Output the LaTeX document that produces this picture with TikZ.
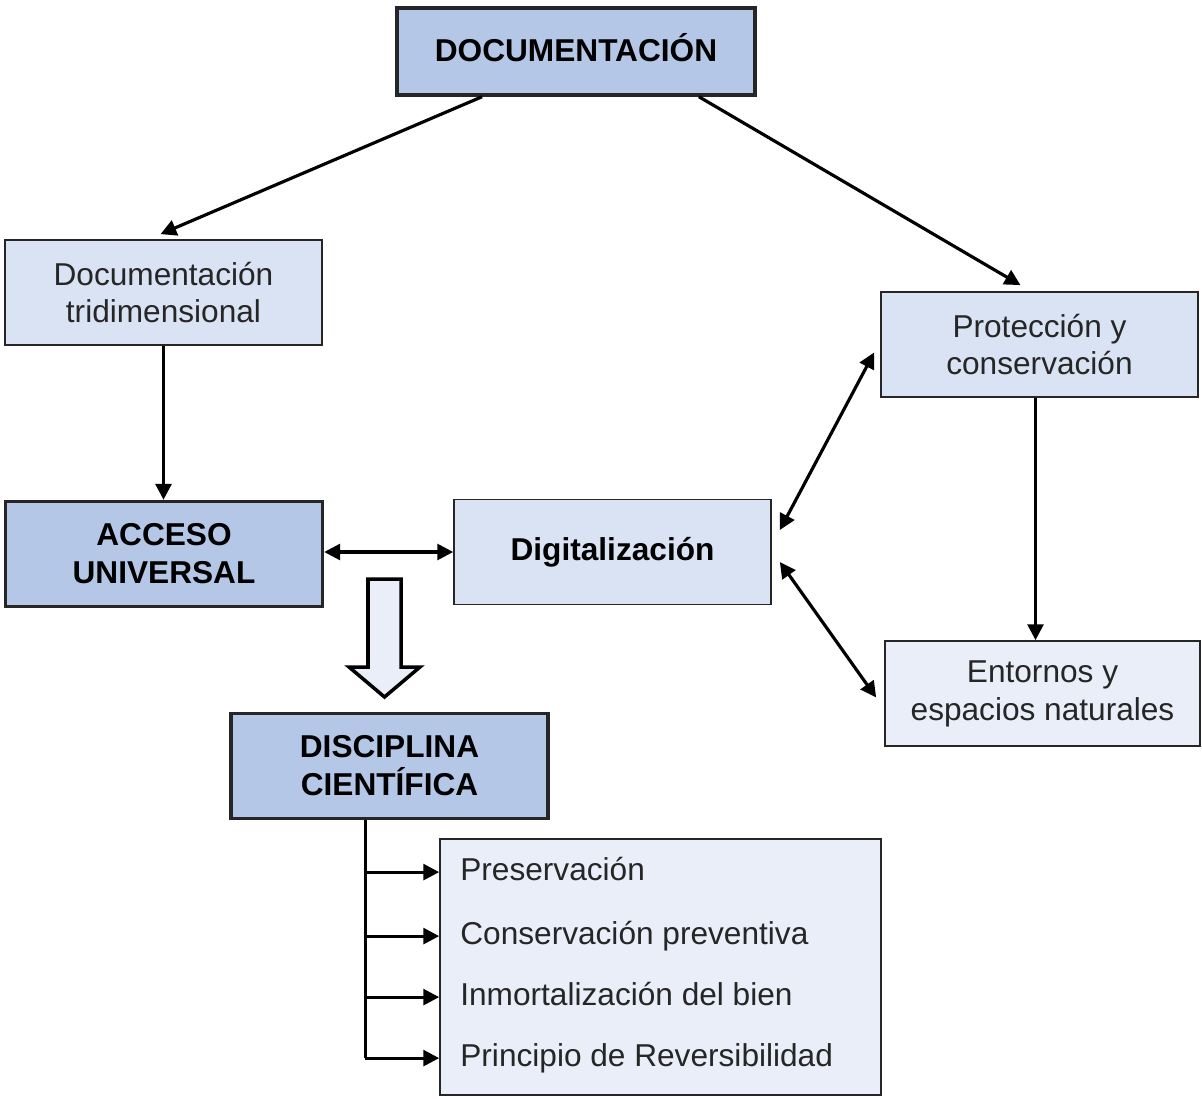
\documentclass[tikz,border=0pt]{standalone}
\usepackage{fontspec}
\setmainfont{Liberation Sans}
\usetikzlibrary{arrows.meta,calc}
\definecolor{azulF}{HTML}{B4C7E7}
\definecolor{azulM}{HTML}{DAE3F3}
\definecolor{azulC}{HTML}{E9EEF8}
\tikzset{
  caja/.style={draw=black!85, line width=1pt, fill=azulM, minimum width=6.34cm, minimum height=2.1cm,
    align=center, inner sep=0pt, text=black!85, font=\fontsize{18}{21.6}\selectfont},
  cajaF/.style={caja, fill=azulF, line width=2pt, text=black, font=\fontsize{18}{21.6}\selectfont\bfseries},
  item/.style={anchor=base west, inner sep=0pt, text height=13pt, text depth=4pt, text=black!85,
    font=\fontsize{18}{21.6}\selectfont},
  flecha/.style={line width=1.8pt, -{Triangle[length=9pt,width=9pt]}},
  dflecha/.style={line width=1.8pt, {Triangle[length=9pt,width=9pt]}-{Triangle[length=9pt,width=9pt]}},
}
\begin{document}
\begin{tikzpicture}[x=0.02cm, y=-0.02cm]
  \useasboundingbox (0,0) rectangle (1202,1098);

  \node[cajaF, minimum width=7.16cm, minimum height=1.74cm, text depth=5pt] (doc) at (576,51.5) {DOCUMENTACIÓN};
  \node[caja] (tri) at (163.5,292.5) {Documentación\\tridimensional};
  \node[caja] (prot) at (1039.5,344.5) {Protección y\\conservación};
  \node[cajaF] (acc) at (164,554) {ACCESO\\UNIVERSAL};
  \node[caja, font=\fontsize{18}{21.6}\selectfont\bfseries, text=black] (dig) at (612.5,552) {Digitalización};
  \node[caja, fill=azulC, minimum width=6.3cm] (ent) at (1042.5,693.5) {Entornos y\\espacios naturales};
  \node[cajaF] (dis) at (389.5,766) {DISCIPLINA\\CIENTÍFICA};
  \node[caja, fill=azulC, minimum width=8.82cm, minimum height=5.12cm] (lista) at (660.5,967) {};

  \node[item] (it1) at (460,880) {Preservación};
  \node[item] (it2) at (460,944) {Conservación preventiva};
  \node[item] (it3) at (460,1005) {Inmortalización del bien};
  \node[item] (it4) at (460,1066) {Principio de Reversibilidad};

  % conexiones
  \draw[flecha] ($(doc.south west)!0.24!(doc.south east)$) -- ($(tri.north)+(-3,-5)$);
  \draw[flecha] ($(doc.south west)!0.84!(doc.south east)$) -- ($(prot.north)+(-19,-6)$);
  \draw[flecha] (tri.south) -- (tri.south |- acc.north);
  \draw[dflecha] (acc.east |- dig.west) -- (dig.west);
  \draw[dflecha] ($(dig.east)+(8,-22)$) -- ($(prot.west)+(-6,8)$);
  \draw[dflecha] ($(dig.east)+(8,10)$) -- ($(ent.west)+(-8,4)$);
  \draw[flecha] ($(prot.south)+(-4,0)$) -- ($(prot.south |- ent.north)+(-4,0)$);

  % flecha hueca
  \draw[line width=2pt, fill=azulC, line join=miter]
    (368,579) -- (401,579) -- (401,667) -- (420,667) -- (384.5,697) -- (349,667) -- (368,667) -- cycle;

  \coordinate (tronco) at ($(dis.south west)+(136,0)$);
  \draw[line width=1.8pt] (tronco) -- (tronco |- it4.west);
  \foreach \i in {1,...,4}
    \draw[flecha] (tronco |- it\i.west) -- (lista.west |- it\i.west);
\end{tikzpicture}
\end{document}
